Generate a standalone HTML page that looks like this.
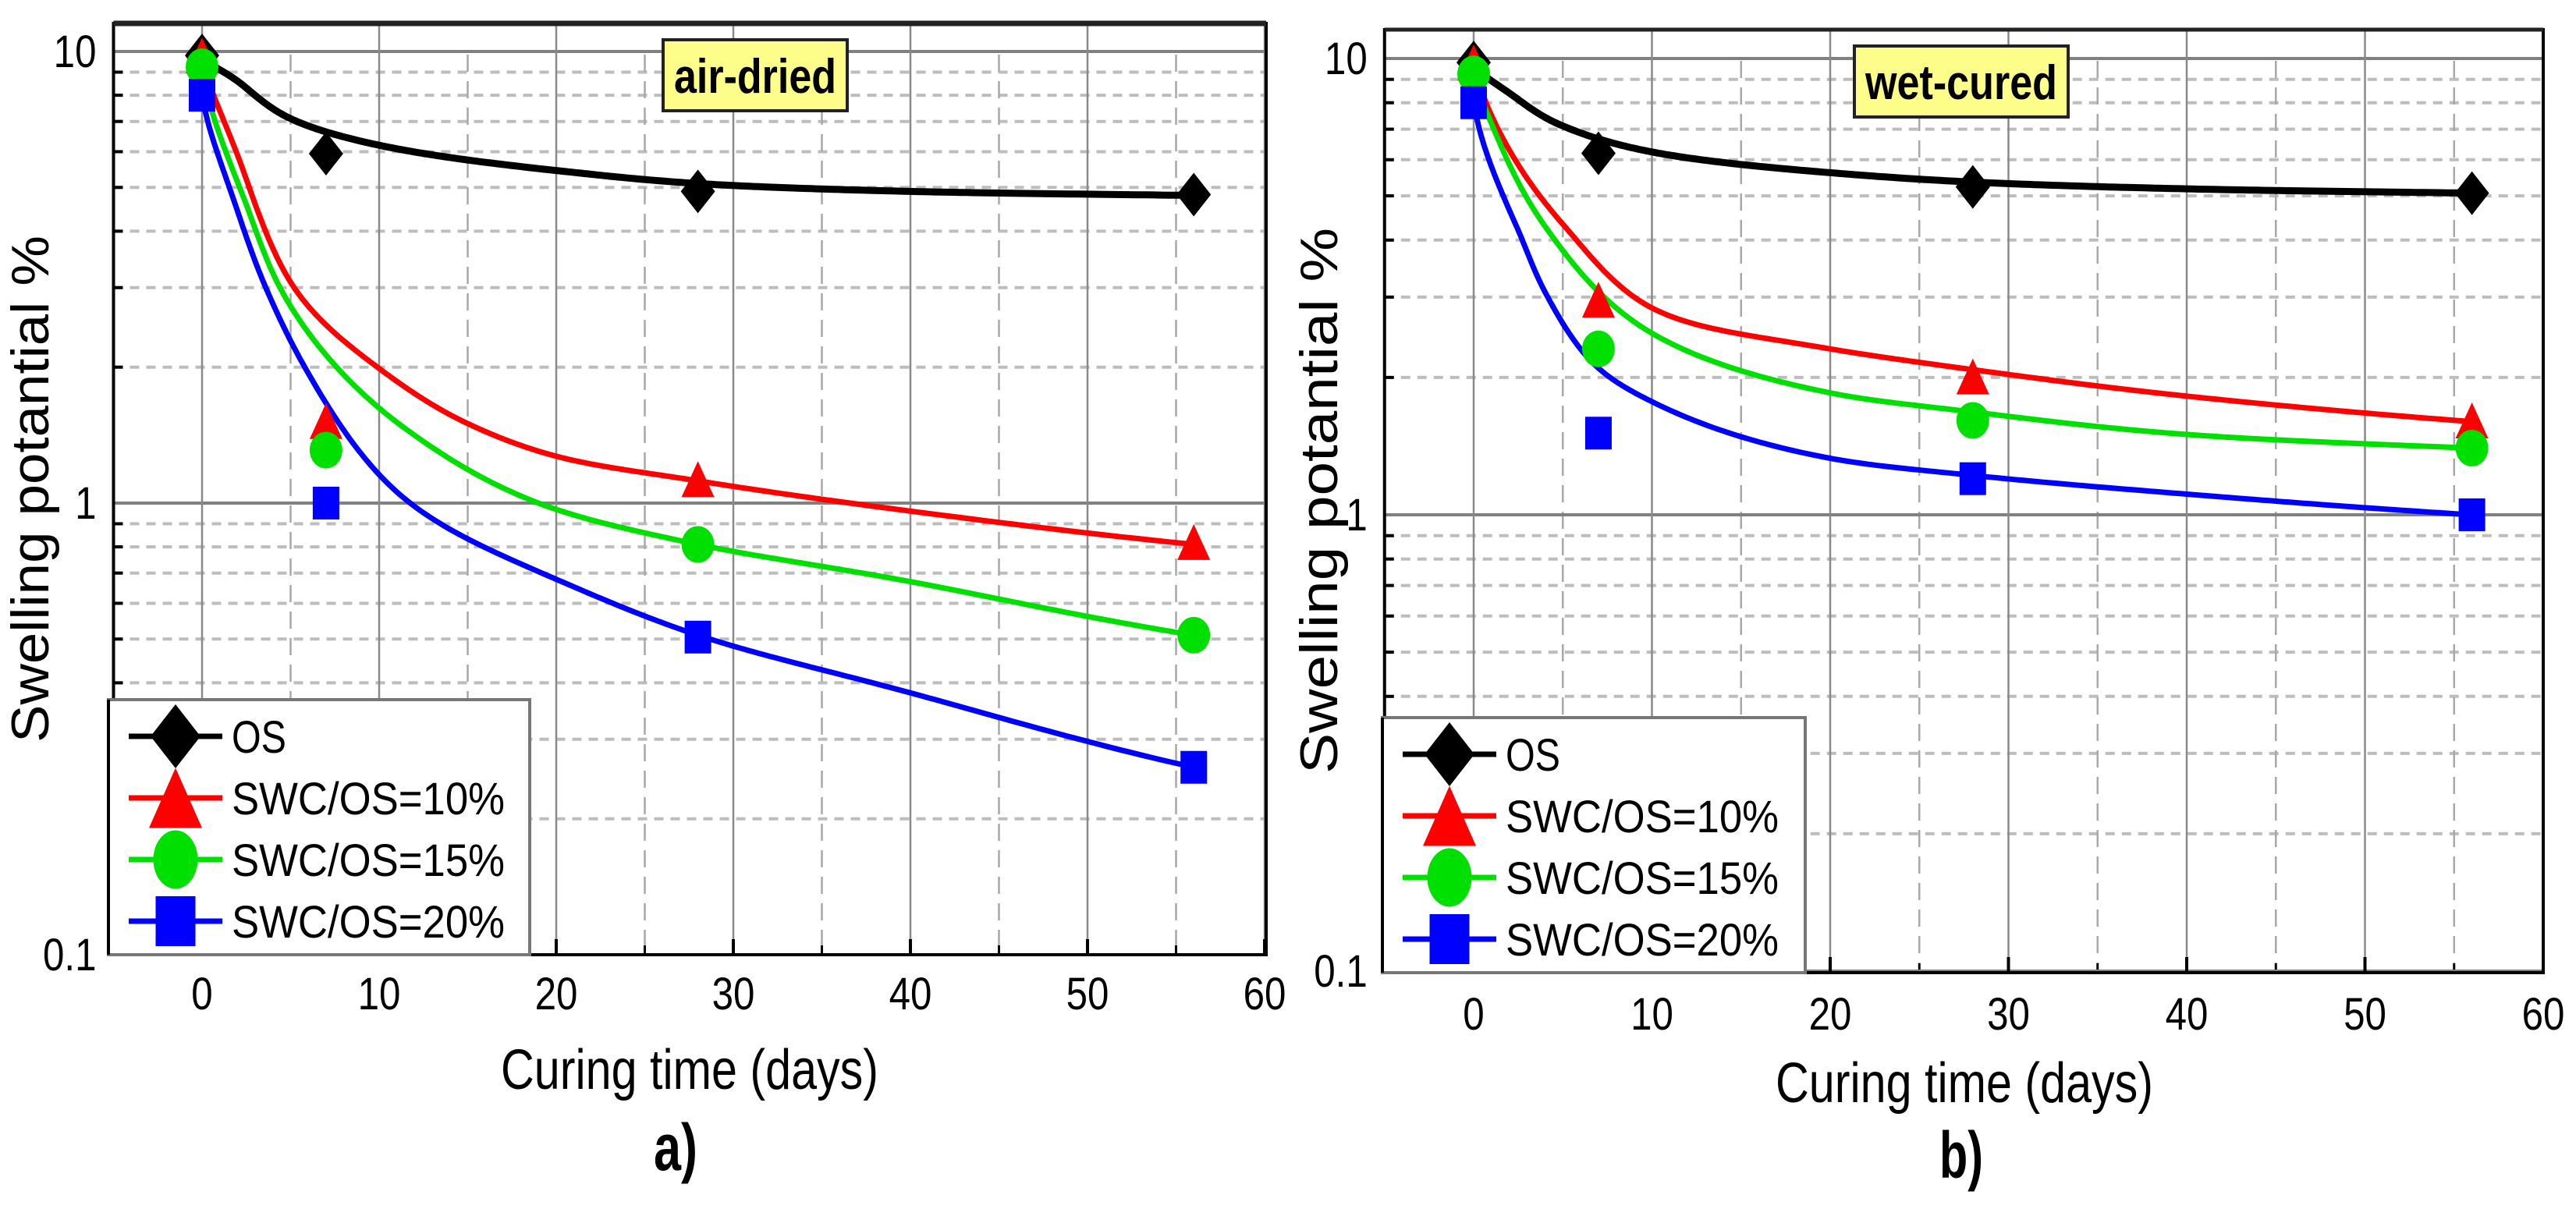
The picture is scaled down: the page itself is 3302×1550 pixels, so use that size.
<!DOCTYPE html>
<html><head><meta charset="utf-8">
<style>
html,body{margin:0;padding:0;background:#fff;}
svg{display:block;}
text{font-family:"Liberation Sans",Arial,sans-serif;fill:#000;}
</style></head>
<body>
<svg id="fig" width="3302" height="1550" viewBox="0 0 3302 1550" xmlns="http://www.w3.org/2000/svg"></svg>
<script>
// ---------- data ----------
const markerDays = [0, 7, 28, 56];
const seriesNames = ["OS", "SWC/OS=10%", "SWC/OS=15%", "SWC/OS=20%"];
const xTicks = [0, 10, 20, 30, 40, 50, 60];
const yTickLabels = ["10", "1", "0.1"];
const yTickValues = [10, 1, 0.1];

// air-dried markers
const aOS  = [9.8, 5.94, 4.9, 4.82];
const aR10 = [9.8, 1.52, 1.13, 0.82];
const aG15 = [9.25, 1.31, 0.81, 0.51];
const aB20 = [8.0, 1.0, 0.505, 0.26];
// air-dried fitted curves
const aOSCurveX = [0, 2, 5, 10, 20, 28, 40, 56];
const aOSCurveY = [9.7, 8.6, 7.1, 6.2, 5.45, 5.1, 4.9, 4.8];
const aR10CurveX = [0, 2, 5.2, 9.9, 15, 20, 28, 40, 56];
const aR10CurveY = [9.8, 5.9, 3.0, 2.0, 1.5, 1.27, 1.12, 0.96, 0.81];
const aG15CurveX = [0, 2.3, 4.4, 7.6, 11.5, 19, 28, 40, 56];
const aG15CurveY = [9.2, 4.8, 3.0, 2.0, 1.46, 1.0, 0.81, 0.67, 0.51];
const aB20CurveX = [0, 1.7, 3.6, 5.8, 11.1, 20.7, 28, 40, 56];
const aB20CurveY = [8.0, 4.8, 3.0, 2.0, 1.05, 0.66, 0.51, 0.38, 0.26];

// wet-cured markers
const wOS  = [9.8, 6.2, 5.23, 5.07];
const wR10 = [9.8, 2.96, 2.01, 1.61];
const wG15 = [9.25, 2.31, 1.61, 1.40];
const wB20 = [8.0, 1.51, 1.2, 1.0];
// wet-cured fitted curves
const wOSCurveX = [0, 2, 4.7, 10, 20, 28, 40, 56];
const wOSCurveY = [9.7, 8.4, 7.2, 6.24, 5.62, 5.36, 5.18, 5.07];
const wR10CurveX = [0, 2, 5.1, 10, 20, 28, 40, 56];
const wR10CurveY = [9.8, 6.3, 4.29, 2.84, 2.31, 2.08, 1.82, 1.6];
const wG15CurveX = [0, 1.2, 4, 10, 20, 28, 40, 56];
const wG15CurveY = [9.2, 6.9, 4.29, 2.5, 1.85, 1.68, 1.5, 1.4];
const wB20CurveX = [0, 2.4, 4, 6.7, 10, 20, 28, 40, 56];
const wB20CurveY = [8.0, 4.29, 3.08, 2.15, 1.77, 1.33, 1.22, 1.11, 1.0];

// ---------- helpers ----------
const NS = "http://www.w3.org/2000/svg";
const svg = document.getElementById("fig");
function mk(tag, attrs, parent) {
  const e = document.createElementNS(NS, tag);
  for (const k in attrs) e.setAttribute(k, attrs[k]);
  (parent || svg).appendChild(e);
  return e;
}
const colors = ["#000000", "#ff0000", "#00e000", "#0000ff"];
const shapes = ["diamond", "triangle", "ellipse", "square"];

function drawMarker(g, shape, cx, cy, w, h, color) {
  let e;
  if (shape === "diamond") {
    e = mk("polygon", {points: `${cx},${cy-h/2} ${cx+w/2},${cy} ${cx},${cy+h/2} ${cx-w/2},${cy}`, fill: color}, g);
  } else if (shape === "triangle") {
    e = mk("polygon", {points: `${cx},${cy-h/2} ${cx+w/2},${cy+h/2} ${cx-w/2},${cy+h/2}`, fill: color}, g);
  } else if (shape === "ellipse") {
    e = mk("ellipse", {cx: cx, cy: cy, rx: w/2, ry: h/2, fill: color}, g);
  } else {
    e = mk("rect", {x: cx-w/2, y: cy-h/2, width: w, height: h, fill: color}, g);
  }
  return e;
}

// monotone cubic in log-log space (u = log10(x+1), v = log10(y))
function monotonePath(xs0, ys, sx, sy) {
  const n = xs0.length;
  const xs = xs0.map(x => Math.log10(x + 1));
  const ly = ys.map(v => Math.log10(v));
  const d = [], m = new Array(n);
  for (let i = 0; i < n-1; i++) d.push((ly[i+1]-ly[i])/(xs[i+1]-xs[i]));
  m[0] = d[0]; m[n-1] = d[n-2];
  for (let i = 1; i < n-1; i++) m[i] = (d[i-1]*d[i] <= 0) ? 0 : (d[i-1]+d[i])/2;
  for (let i = 0; i < n-1; i++) {
    if (d[i] === 0) { m[i] = 0; m[i+1] = 0; continue; }
    const a = m[i]/d[i], b = m[i+1]/d[i], s = a*a+b*b;
    if (s > 9) { const t = 3/Math.sqrt(s); m[i] = t*a*d[i]; m[i+1] = t*b*d[i]; }
  }
  let p = "";
  for (let i = 0; i < n-1; i++) {
    const h = xs[i+1]-xs[i];
    for (let k = 0; k <= 40; k++) {
      const t = k/40, t2 = t*t, t3 = t2*t;
      const v = (2*t3-3*t2+1)*ly[i] + (t3-2*t2+t)*h*m[i] + (-2*t3+3*t2)*ly[i+1] + (t3-t2)*h*m[i+1];
      const u = xs[i] + t*h;
      const X = sx(Math.pow(10, u) - 1), Y = sy(Math.pow(10, v));
      p += (p ? " L" : "M") + X.toFixed(1) + "," + Y.toFixed(1);
    }
  }
  return p;
}

function panel(cfg) {
  const g = mk("g", {});
  
  
  const sx = d => cfg.x0 + d*cfg.ppd;
  const sy = v => cfg.y10 + (1 - Math.log10(v))*cfg.dec;
  const L = sx(-5), R = cfg.right, T = cfg.top, B = cfg.bottom;

  const grid = mk("g", {}, g);
  
  
  [0.2,0.3,0.4,0.5,0.6,0.7,0.8,0.9,2,3,4,5,6,7,8,9].forEach(v => {
    const y = sy(v);
    mk("line", {x1: L, x2: R, y1: y, y2: y, stroke: "#bdbdbd", "stroke-width": 4, "stroke-dasharray": "12 9"}, grid);
    mk("line", {x1: L, x2: L+12, y1: y, y2: y, stroke: "#000", "stroke-width": 4}, grid);
  });
  [-5,5,15,25,35,45,55].forEach(d => {
    const x = sx(d);
    if (x > L+2) mk("line", {x1: x, x2: x, y1: T+40, y2: B, stroke: "#a8a8a8", "stroke-width": 2.5, "stroke-dasharray": "22 12"}, grid);
    mk("line", {x1: x, x2: x, y1: B, y2: B-12, stroke: "#000", "stroke-width": 3}, grid);
  });
  yTickValues.forEach(v => {
    const y = sy(v);
    mk("line", {x1: L, x2: R, y1: y, y2: y, stroke: "#808080", "stroke-width": 4}, grid);
  });
  xTicks.forEach(d => {
    const x = sx(d);
    mk("line", {x1: x, x2: x, y1: T, y2: B, stroke: "#8a8a8a", "stroke-width": 2.5}, grid);
    mk("line", {x1: x, x2: x, y1: B, y2: B-20, stroke: "#000", "stroke-width": 4}, grid);
  });
  mk("rect", {x: L, y: T, width: R-L, height: B-T, fill: "none", stroke: "#000", "stroke-width": 4}, g);
  mk("line", {x1: L, x2: R, y1: T, y2: T, stroke: "#222", "stroke-width": cfg.topW}, g);

  xTicks.forEach(d => {
    const t = mk("text", {x: sx(d), y: cfg.xLabY, "font-size": 58, "text-anchor": "middle", transform: `translate(${sx(d)},0) scale(0.85,1) translate(${-sx(d)},0)`}, g);
    
    
    t.textContent = String(d);
  });
  yTickValues.forEach((v, i) => {
    const x = L - 22;
    const t = mk("text", {x: x, y: sy(v)+20, "font-size": 58, "text-anchor": "end", transform: `translate(${x},0) scale(0.85,1) translate(${-x},0)`}, g);
    
    
    t.textContent = yTickLabels[i];
  });

  cfg.curves.forEach((c, i) => {
    const p = mk("path", {d: monotonePath(c[0], c[1], sx, sy), fill: "none", stroke: colors[i], "stroke-width": i === 0 ? 9 : 7, "stroke-linejoin": "round"}, g);
    
    
  });
  const msz = [[44,56],[42,46],[42,47],[34,42]];
  cfg.markers.forEach((arr, i) => {
    arr.forEach((v, j) => {
      const m = drawMarker(g, shapes[i], sx(markerDays[j]), sy(v), msz[i][0], msz[i][1], colors[i]);
      
      
    });
  });

  const lb = mk("g", {}, g);
  
  
  mk("rect", {x: cfg.box[0], y: cfg.box[1], width: cfg.box[2], height: cfg.box[3], fill: "#fdfd8a", stroke: "#222", "stroke-width": 4}, lb);
  const bt = mk("text", {x: cfg.box[0]+cfg.box[2]/2, y: cfg.box[1]+68, "font-size": 62, "font-weight": "bold", "text-anchor": "middle", textLength: cfg.box[2]-28, lengthAdjust: "spacingAndGlyphs"}, lb);
  bt.textContent = cfg.boxText;

  const lg = mk("g", {}, g);
  
  
  mk("rect", {x: cfg.leg[0], y: cfg.leg[1], width: cfg.leg[2], height: cfg.leg[3], fill: "#fff", stroke: "#777", "stroke-width": 4}, lg);
  mk("line", {x1: cfg.leg[0], x2: cfg.leg[0], y1: cfg.leg[1], y2: cfg.leg[1]+cfg.leg[3], stroke: "#000", "stroke-width": 4}, lg);
  const lsz = [[64,82],[68,77],[57,75],[51,64]];
  seriesNames.forEach((nm, i) => {
    const cy = cfg.leg[1] + 47 + i*79;
    const cx = cfg.leg[0] + 86;
    const e = mk("g", {}, lg);
    
    
    mk("line", {x1: cx-60, x2: cx+60, y1: cy, y2: cy, stroke: colors[i], "stroke-width": 7}, e);
    drawMarker(e, shapes[i], cx, cy, lsz[i][0], lsz[i][1], colors[i]);
    const t = mk("text", {x: cx+72, y: cy+21, "font-size": 58}, e);
    t.setAttribute("textLength", i > 0 ? 350 : 70);
    t.setAttribute("lengthAdjust", "spacingAndGlyphs");
    t.textContent = nm;
  });

  const xt = mk("text", {x: cfg.xTitle[0], y: cfg.xTitle[1], "font-size": 72, "text-anchor": "middle", textLength: 484, lengthAdjust: "spacingAndGlyphs"}, g);
  
  
  xt.textContent = "Curing time (days)";
  const yt = mk("text", {x: 0, y: 0, "font-size": 68, "text-anchor": "middle", textLength: cfg.yTitle[2], lengthAdjust: "spacingAndGlyphs", transform: `translate(${cfg.yTitle[0]},${cfg.yTitle[1]}) rotate(-90)`}, g);
  
  
  yt.textContent = "Swelling potantial %";
  const pl = mk("text", {x: cfg.tag[0], y: cfg.tag[1], "font-size": 84, "font-weight": "bold", "text-anchor": "middle", textLength: 56, lengthAdjust: "spacingAndGlyphs"}, g);
  
  
  pl.textContent = cfg.tagText;
}

panel({
  name: "air-dried-panel", x0: 259, ppd: 22.7, y10: 66, dec: 579, top: 30, bottom: 1224, right: 1623, topW: 7,
  xLabY: 1294,
  curves: [[aOSCurveX, aOSCurveY], [aR10CurveX, aR10CurveY], [aG15CurveX, aG15CurveY], [aB20CurveX, aB20CurveY]],
  markers: [aOS, aR10, aG15, aB20],
  box: [850, 51, 236, 91], boxText: "air-dried",
  leg: [139, 897, 540, 327],
  xTitle: [884, 1396], yTitle: [62, 627, 650], tag: [866, 1500], tagText: "a)"
});
panel({
  name: "wet-cured-panel", x0: 1889, ppd: 22.85, y10: 75, dec: 585, top: 38, bottom: 1247, right: 3260, topW: 5,
  xLabY: 1320,
  curves: [[wOSCurveX, wOSCurveY], [wR10CurveX, wR10CurveY], [wG15CurveX, wG15CurveY], [wB20CurveX, wB20CurveY]],
  markers: [wOS, wR10, wG15, wB20],
  box: [2377, 59, 274, 91], boxText: "wet-cured",
  leg: [1772, 920, 542, 327],
  xTitle: [2518, 1413], yTitle: [1714, 642, 700], tag: [2514, 1510], tagText: "b)"
});
</script>
</body></html>
